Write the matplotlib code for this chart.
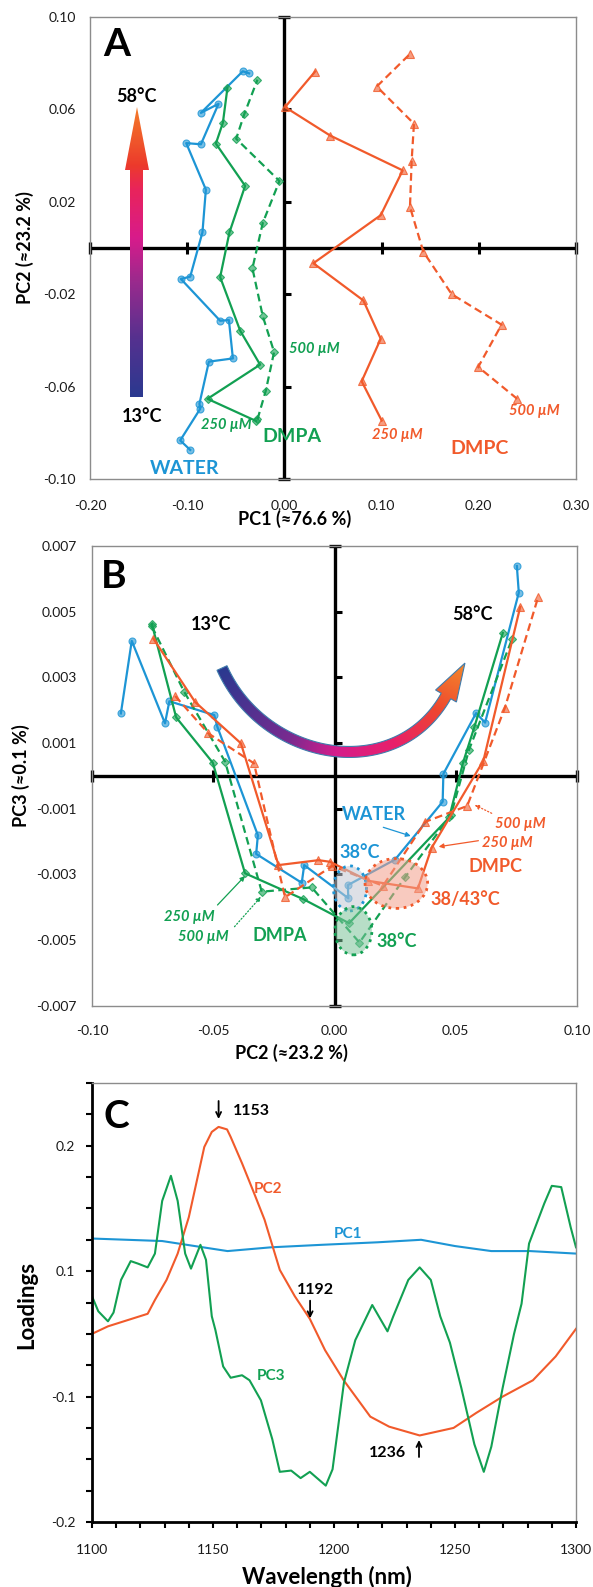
import numpy as np
import matplotlib
matplotlib.use('Agg')
import matplotlib.pyplot as plt
from matplotlib.patches import Ellipse, Polygon
from matplotlib.colors import LinearSegmentedColormap, to_rgba

plt.rcParams['font.family'] = ['Lato', 'DejaVu Sans']

# ---------------- panel A : PC1 / PC2 scores, 13 -> 58 °C ----------------
waterA_x = [-0.0969, -0.1072, -0.0866, -0.0874, -0.0777, -0.0530, -0.0571, -0.0661, -0.1065,
            -0.0969, -0.0843, -0.0808, -0.1010, -0.0859, -0.0678, -0.0859, -0.0428, -0.0363]
waterA_y = [-0.0874, -0.0833, -0.0696, -0.0674, -0.0492, -0.0478, -0.0312, -0.0315, -0.0134,
            -0.0124, 0.0068, 0.0253, 0.0454, 0.0449, 0.0624, 0.0585, 0.0765, 0.0756]
dmpa250A_x = [-0.0291, -0.0791, -0.0250, -0.0455, -0.0661, -0.0565, -0.0404, -0.0705, -0.0633, -0.0586]
dmpa250A_y = [-0.0749, -0.0653, -0.0505, -0.0358, -0.0126, 0.0068, 0.0269, 0.0452, 0.0542, 0.0693]
dmpa500A_x = [-0.0277, -0.0191, -0.0106, -0.0222, -0.0329, -0.0222, -0.0051, -0.0496, -0.0414, -0.0277]
dmpa500A_y = [-0.0742, -0.0617, -0.0450, -0.0296, -0.0088, 0.0109, 0.0290, 0.0473, 0.0578, 0.0729]
dmpc250A_x = [0.1001, 0.0795, 0.0991, 0.0812, 0.0298, 0.0991, 0.1217, 0.0470, 0.0007, 0.0316]
dmpc250A_y = [-0.0747, -0.0577, -0.0393, -0.0227, -0.0066, 0.0142, 0.0336, 0.0487, 0.0610, 0.0764]
dmpc500A_x = [0.2395, 0.1994, 0.2234, 0.1721, 0.1429, 0.1292, 0.1309, 0.1333, 0.0950, 0.1292]
dmpc500A_y = [-0.0653, -0.0515, -0.0332, -0.0200, -0.0016, 0.0178, 0.0377, 0.0538, 0.0699, 0.0840]
a_xticks = [-0.20, -0.10, 0.00, 0.10, 0.20, 0.30]
a_yticks = [0.10, 0.06, 0.02, -0.02, -0.06, -0.10]

# ---------------- panel B : PC2 / PC3 scores ----------------
waterB_x = [-0.0881, -0.0836, -0.0699, -0.0681, -0.0496, -0.0483, -0.0316, -0.0323, -0.0135, -0.0125,
            0.0057, 0.0055, 0.0250, 0.0446, 0.0449, 0.0584, 0.0621, 0.0760, 0.0752]
waterB_y = [0.00190, 0.00411, 0.00160, 0.00227, 0.00185, 0.00149, -0.00181, -0.00238, -0.00326, -0.00272,
            -0.00373, -0.00333, -0.00255, -0.00079, 0.00006, 0.00191, 0.00162, 0.00558, 0.00639]
dmpa250B_x = [-0.0753, -0.0653, -0.0502, -0.0369, -0.0128, 0.0060, 0.0473, 0.0530, 0.0577, 0.0694]
dmpa250B_y = [0.00462, 0.00178, 0.00040, -0.00297, -0.00376, -0.00449, -0.00127, 0.00040, 0.00149, 0.00435]
dmpa500B_x = [-0.0753, -0.0620, -0.0451, -0.0300, -0.0094, 0.0103, 0.0291, 0.0480, 0.0555, 0.0733]
dmpa500B_y = [0.00455, 0.00256, 0.00043, -0.00353, -0.00340, -0.00508, -0.00309, -0.00120, 0.00080, 0.00418]
dmpc250B_x = [-0.0747, -0.0575, -0.0386, -0.0231, -0.0066, -0.0018, 0.0140, 0.0344, 0.0400, 0.0614, 0.0766]
dmpc250B_y = [0.00418, 0.00225, 0.00099, -0.00272, -0.00257, -0.00262, -0.00320, -0.00343, -0.00220,
              0.00046, 0.00515]
dmpc500B_x = [-0.0657, -0.0520, -0.0332, -0.0204, -0.0010, 0.0200, 0.0375, 0.0547, 0.0703, 0.0840]
dmpc500B_y = [0.00243, 0.00129, 0.00038, -0.00370, -0.00275, -0.00335, -0.00140, -0.00092, 0.00208, 0.00545]
# 38 °C regions: centre x, centre y, width, height
zone_water = (0.0064, -0.00343, 0.0137, 0.00137)
zone_dmpc = (0.0255, -0.00328, 0.0258, 0.00152)
zone_dmpa = (0.0078, -0.00472, 0.0152, 0.00147)
b_xticks = [-0.10, -0.05, 0.00, 0.05, 0.10]
b_yticks = [0.007, 0.005, 0.003, 0.001, -0.001, -0.003, -0.005, -0.007]

# ---------------- panel C : loadings ----------------
pc1_wl = [1100, 1129, 1156, 1174, 1195, 1218, 1236, 1250, 1265, 1281, 1300]
pc1 = [0.126, 0.124, 0.116, 0.119, 0.121, 0.123, 0.125, 0.120, 0.116, 0.116, 0.114]
pc2_wl = [1100, 1106.6, 1123, 1126, 1130.8, 1135.4, 1140, 1146.4, 1149.5, 1152.3, 1155.8, 1157.3, 1162,
          1166.6, 1171.3, 1177.6, 1183.8, 1190, 1196.3, 1204, 1215, 1222.8, 1235.4, 1249.4, 1258.8,
          1269.7, 1282.2, 1291.6, 1300]
pc2 = [0.050, 0.056, 0.066, 0.077, 0.093, 0.114, 0.143, 0.199, 0.211, 0.215, 0.213, 0.207, 0.186,
       0.164, 0.141, 0.101, 0.080, 0.062, 0.037, 0.013, -0.016, -0.024, -0.031, -0.025, -0.013,
       0.000, 0.013, 0.032, 0.054]
pc3_wl = [1100, 1102.6, 1106.6, 1108.9, 1112, 1116, 1119, 1123, 1126, 1129, 1132.6, 1135.4, 1138.5,
          1140.9, 1144.8, 1147.1, 1149.5, 1151, 1154.2, 1157.3, 1162, 1165.1, 1169.8, 1174.5, 1177.6,
          1182.3, 1186.2, 1190, 1196.6, 1199.4, 1204.1, 1208.8, 1215.8, 1222.1, 1224.5, 1230.7, 1235.4,
          1240, 1243.9, 1247.9, 1252.6, 1258, 1261.9, 1265, 1269.7, 1274.4, 1277.5, 1280.6, 1286.9,
          1290, 1293.9, 1297.8, 1300]
pc3 = [0.080, 0.068, 0.060, 0.067, 0.093, 0.108, 0.106, 0.103, 0.114, 0.156, 0.176, 0.156, 0.114,
       0.102, 0.121, 0.109, 0.064, 0.053, 0.024, 0.015, 0.017, 0.013, -0.003, -0.034, -0.060,
       -0.059, -0.065, -0.060, -0.071, -0.058, 0.011, 0.045, 0.073, 0.052, 0.064, 0.093, 0.103,
       0.093, 0.064, 0.043, 0.007, -0.038, -0.060, -0.040, 0.007, 0.050, 0.074, 0.122, 0.154,
       0.168, 0.167, 0.135, 0.119]
c_yticks = [-0.1, 0.0, 0.1, 0.2]
c_yticklabels = ['-0.2', '-0.1', '0.1', '0.2']

BLUE = '#1d95d5'
GREEN = '#12a052'
ORANGE = '#f15a2b'

W, H = 593, 1587
fig = plt.figure(figsize=(W / 100, H / 100), dpi=100)


def box(l, t, r, b):
    return [l / W, 1 - b / H, (r - l) / W, (b - t) / H]


def ftext(px, py, s, **kw):
    kw.setdefault('ha', 'center')
    kw.setdefault('va', 'center')
    fig.text(px / W, 1 - py / H, s, **kw)


def series(ax, x, y, color, marker, dashed=False, ms=5):
    ax.plot(x, y, color=color, lw=1.6, ls=(0, (3.5, 2)) if dashed else '-',
            marker=marker, ms=ms, mfc=to_rgba(color, 0.6), mec=to_rgba(color, 0.8),
            mew=0.8, zorder=4)


def frame(ax, xpad, ypad):
    ax.patch.set_alpha(0)
    for s in ax.spines.values():
        s.set_color('#8c8c8c')
        s.set_linewidth(1.0)
    ax.tick_params(length=0, labelsize=10, colors='#1a1a1a')
    ax.tick_params(axis='x', pad=xpad)
    ax.tick_params(axis='y', pad=ypad)


def cross(ax, xt, yt):
    x0, x1 = ax.get_xlim()
    y0, y1 = ax.get_ylim()
    kw = dict(color='k', zorder=2, clip_on=False)
    ax.plot([x0, x1], [0, 0], lw=2.4, solid_capstyle='butt', **kw)
    ax.plot([0, 0], [y0, y1], lw=2.4, solid_capstyle='butt', **kw)
    ax.plot(xt, np.zeros(len(xt)), ls='none', marker='|', ms=8, mew=2.2, **kw)
    ax.plot(np.zeros(len(yt)), yt, ls='none', marker=1, ms=5, mew=2.2, **kw)
    ax.plot([x0, x1], [0, 0], ls='none', marker='|', ms=9, mew=2.4, **kw)
    ax.plot([0, 0], [y0, y1], ls='none', marker='_', ms=9, mew=2.4, **kw)


# ---------------- A ----------------
axA = fig.add_axes(box(90, 17, 576, 479), zorder=1)
series(axA, waterA_x, waterA_y, BLUE, 'o')
series(axA, dmpa250A_x, dmpa250A_y, GREEN, 'D', ms=3.8)
series(axA, dmpa500A_x, dmpa500A_y, GREEN, 'D', dashed=True, ms=3.8)
series(axA, dmpc250A_x, dmpc250A_y, ORANGE, '^', ms=5.5)
series(axA, dmpc500A_x, dmpc500A_y, ORANGE, '^', dashed=True, ms=5.5)
axA.set_xlim(-0.2, 0.3)
axA.set_ylim(-0.1, 0.1)
axA.set_xticks(a_xticks, ['%.2f' % v for v in a_xticks])
axA.set_yticks(a_yticks, ['%.2f' % v for v in a_yticks])
frame(axA, 15, 10)
cross(axA, [-0.1, 0.1, 0.2], [-0.06, -0.02, 0.02, 0.06])

# ---------------- B ----------------
axB = fig.add_axes(box(92, 546, 577, 1005.6), zorder=1)
series(axB, waterB_x, waterB_y, BLUE, 'o')
series(axB, dmpa250B_x, dmpa250B_y, GREEN, 'D', ms=3.8)
series(axB, dmpa500B_x, dmpa500B_y, GREEN, 'D', dashed=True, ms=3.8)
series(axB, dmpc250B_x, dmpc250B_y, ORANGE, '^', ms=5.5)
series(axB, dmpc500B_x, dmpc500B_y, ORANGE, '^', dashed=True, ms=5.5)
for (cx, cy, w, h), fc, ec in [(zone_water, '#c3c8d2', BLUE),
                               (zone_dmpc, '#f3a08c', ORANGE),
                               (zone_dmpa, '#7cc49a', GREEN)]:
    axB.add_patch(Ellipse((cx, cy), w, h, facecolor=to_rgba(fc, 0.55),
                          edgecolor=ec, ls=':', lw=2, zorder=5))
axB.set_xlim(-0.1, 0.1)
axB.set_ylim(-0.007, 0.007)
axB.set_xticks(b_xticks, ['%.2f' % v for v in b_xticks])
axB.set_yticks(b_yticks, ['%.3f' % v for v in b_yticks])
frame(axB, 14, 11)
cross(axB, [-0.05, 0.05], [-0.005, -0.003, -0.001, 0.001, 0.003, 0.005])

# ---------------- C ----------------
axC = fig.add_axes(box(92, 1083, 576, 1522), zorder=1)
axC.patch.set_alpha(0)
axC.plot(pc1_wl, pc1, color=BLUE, lw=1.5)
axC.plot(pc2_wl, pc2, color=ORANGE, lw=1.5)
axC.plot(pc3_wl, pc3, color=GREEN, lw=1.5)
axC.set_xlim(1100, 1300)
axC.set_ylim(-0.1, 0.25)
axC.set_xticks(np.arange(1100, 1301, 50))
axC.set_xticks(np.arange(1100, 1301, 10), minor=True)
axC.set_yticks(c_yticks, c_yticklabels)
axC.set_yticks(np.arange(-0.1, 0.251, 0.025), minor=True)
for s in ['top', 'right']:
    axC.spines[s].set_color('#8c8c8c')
    axC.spines[s].set_linewidth(1.0)
for s in ['left', 'bottom']:
    axC.spines[s].set_color('k')
    axC.spines[s].set_linewidth(2.0)
axC.tick_params(which='both', direction='out', length=4, width=1.5, color='k',
                labelsize=10, labelcolor='#1a1a1a')
axC.tick_params(axis='x', pad=12)
axC.tick_params(axis='y', pad=8)

# ---------------- overlay: gradient arrows, pointers ----------------
ov = fig.add_axes([0, 0, 1, 1], zorder=3)
ov.patch.set_alpha(0)

# straight temperature arrow (panel A)
cm_a = LinearSegmentedColormap.from_list('tA', [(0, '#2b3990'), (0.2, '#55318f'), (0.4, '#9b2a8d'),
                                                (0.55, '#d81b8b'), (0.72, '#e9245a'),
                                                (0.8, '#ec3a2c'), (1, '#f47b2a')])
arrowA = Polygon([(130, 397), (143, 397), (143, 170), (149, 170), (137, 107), (125, 170), (130, 170)],
                 closed=True, facecolor='none', edgecolor='none')
ov.add_patch(arrowA)
yy = np.linspace(100, 400, 301)
grad = np.clip((397 - yy) / 290, 0, 1)[:, None] * np.ones((1, 40))
im = ov.imshow(cm_a(grad), extent=(120, 155, 400, 100), origin='upper', aspect='auto',
               interpolation='bilinear')
im.set_clip_path(arrowA)

# curved temperature arrow (panel B)
P0, P1, P2, P3 = map(np.array, [(222, 668), (264, 762), (396, 785), (446, 696)])
t = np.linspace(0, 1, 120)[:, None]
pts = (1 - t) ** 3 * P0 + 3 * (1 - t) ** 2 * t * P1 + 3 * (1 - t) * t ** 2 * P2 + t ** 3 * P3
tan = np.gradient(pts, axis=0)
tan /= np.linalg.norm(tan, axis=1)[:, None]
nrm = np.column_stack([-tan[:, 1], tan[:, 0]])
hw = 5.5
left = pts + hw * nrm
right = pts - hw * nrm
E, d, n = pts[-1], tan[-1], nrm[-1]
tip = E + 38 * d
shape = np.vstack([left, E + 12 * n, tip, E - 12 * n, right[::-1]])
arc = Polygon(shape, closed=True, facecolor='none', edgecolor='#3f7cac', lw=0.8, zorder=5)
ov.add_patch(arc)
cm_b = LinearSegmentedColormap.from_list('tB', [(0, '#2b3990'), (0.33, '#7a2a8f'), (0.49, '#d61d8b'),
                                                (0.68, '#e8206a'), (0.84, '#ee4530'), (1, '#f4892a')])
gx, gy = np.meshgrid(np.arange(205, 480), np.arange(640, 765))
ang = np.degrees(np.arctan2(gy - 640, gx - 334))
u = np.clip((166 - ang) / (166 - 9), 0, 1)
im2 = ov.imshow(cm_b(u), extent=(205, 480, 765, 640), origin='upper', aspect='auto',
                interpolation='bilinear', zorder=4)
im2.set_clip_path(arc)


def pointer(xy, xytext, color, ls='-'):
    ov.annotate('', xy=xy, xytext=xytext,
                arrowprops=dict(arrowstyle='-|>', color=color, lw=0.9, ls=ls,
                                mutation_scale=7, shrinkA=0, shrinkB=0))


pointer((410.7, 836), (383.3, 827.3), BLUE)
pointer((474.7, 805), (491.7, 813.3), ORANGE, ':')
pointer((438.7, 846.7), (478.4, 840.7), ORANGE)
pointer((245, 876), (217.5, 905), GREEN)
pointer((261, 896.7), (234.5, 926.7), GREEN, ':')
for (x0, y0), (x1, y1) in [((218.6, 1101), (218.6, 1119)), ((310.1, 1300.7), (310.1, 1318.3)),
                           ((419, 1457), (419, 1440))]:
    ov.annotate('', xy=(x1, y1), xytext=(x0, y0),
                arrowprops=dict(arrowstyle='->', color='k', lw=1.3, shrinkA=0, shrinkB=0,
                                mutation_scale=9))
ov.set_xlim(0, W)
ov.set_ylim(H, 0)
ov.axis('off')

# ---------------- texts ----------------
bold = dict(fontweight='bold')
it = dict(fontweight='bold', fontstyle='italic', fontsize=10.5)

ftext(25, 248, 'PC2 (≈23.2 %)', rotation=90, fontsize=13, **bold)
ftext(295, 519, 'PC1 (≈76.6 %)', fontsize=13, **bold)
ftext(21, 776, 'PC3 (≈0.1 %)', rotation=90, fontsize=13, **bold)
ftext(291, 1053, 'PC2 (≈23.2 %)', fontsize=13, **bold)
ftext(27, 1305, 'Loadings', rotation=90, fontsize=16, **bold)
ftext(327, 1577, 'Wavelength (nm)', fontsize=16, **bold)

ftext(117, 45, 'A', fontsize=28, **bold)
ftext(136, 97, '58°C', fontsize=13, **bold)
ftext(141.7, 417, '13°C', fontsize=13, **bold)
ftext(185, 468, 'WATER', fontsize=14, color=BLUE, **bold)
ftext(226, 425, '250 µM', color=GREEN, **it)
ftext(291.5, 437, 'DMPA', fontsize=14, color=GREEN, **bold)
ftext(314, 349, '500 µM', color=GREEN, **it)
ftext(397.5, 435, '250 µM', color=ORANGE, **it)
ftext(534.5, 411, '500 µM', color=ORANGE, **it)
ftext(480, 449, 'DMPC', fontsize=14, color=ORANGE, **bold)

ftext(114, 577, 'B', fontsize=28, **bold)
ftext(211, 624, '13°C', fontsize=13, **bold)
ftext(472.5, 614.5, '58°C', fontsize=13, **bold)
ftext(374, 814, 'WATER', fontsize=13, color=BLUE, **bold)
ftext(360, 853, '38°C', fontsize=13, color=BLUE, **bold)
ftext(465, 899, '38/43°C', fontsize=13, color=ORANGE, **bold)
ftext(495.4, 867, 'DMPC', fontsize=13, color=ORANGE, **bold)
ftext(520, 824, '500 µM', color=ORANGE, **it)
ftext(507, 842.5, '250 µM', color=ORANGE, **it)
ftext(397, 941, '38°C', fontsize=13, color=GREEN, **bold)
ftext(280, 935.5, 'DMPA', fontsize=13, color=GREEN, **bold)
ftext(189, 917, '250 µM', color=GREEN, **it)
ftext(203.7, 937.5, '500 µM', color=GREEN, **it)

ftext(116, 1116, 'C', fontsize=28, **bold)
ftext(251.5, 1111, '1153', fontsize=11.5, **bold)
ftext(268, 1189, 'PC2', fontsize=11, color=ORANGE, **bold)
ftext(348, 1234, 'PC1', fontsize=11, color=BLUE, **bold)
ftext(316, 1290, '1192', fontsize=11.5, **bold)
ftext(270.5, 1376, 'PC3', fontsize=11, color=GREEN, **bold)
ftext(387.7, 1453, '1236', fontsize=11.5, **bold)

fig.savefig('out.png', dpi=100)
